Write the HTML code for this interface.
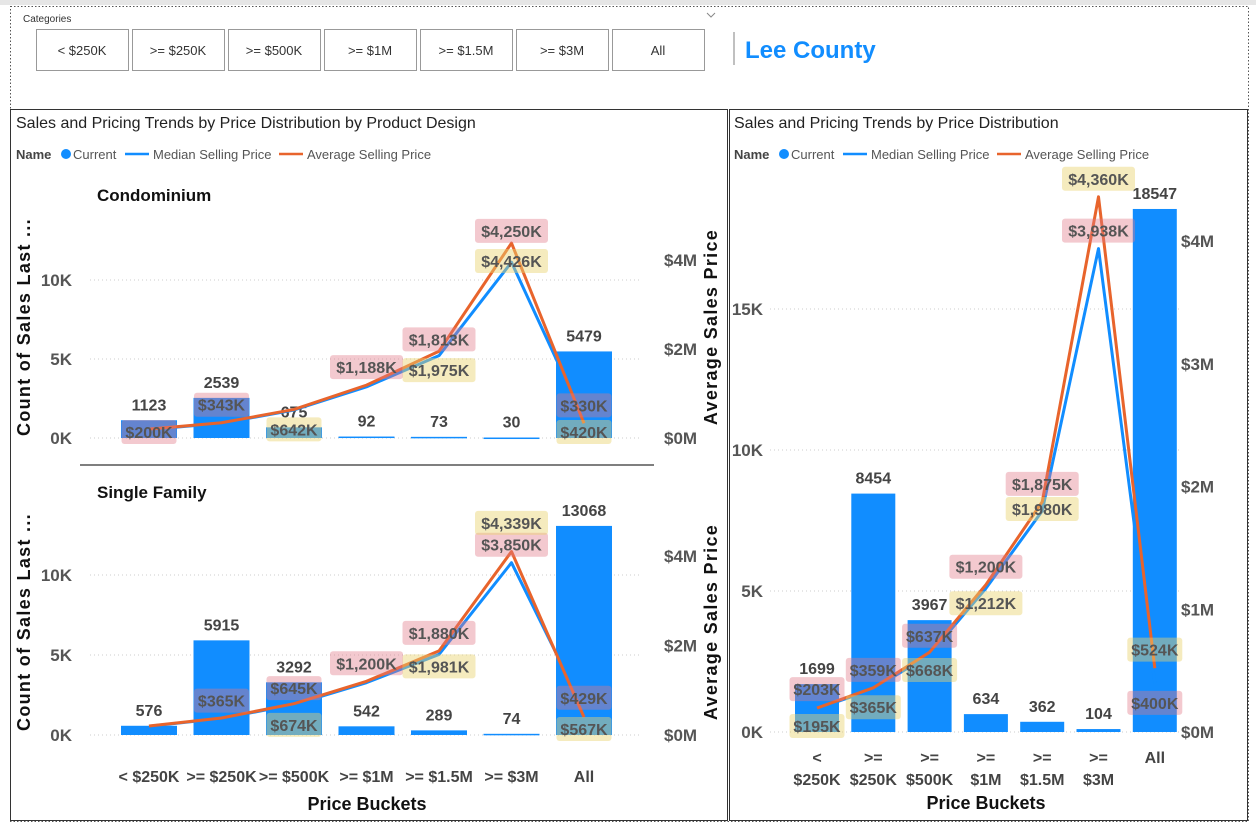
<!DOCTYPE html>
<html><head><meta charset="utf-8">
<style>
body{margin:0;background:#fff;}
svg{display:block;font-family:"Liberation Sans",sans-serif;}
</style></head>
<body>
<svg id="root" width="1256" height="825" viewBox="0 0 1256 825">
  <rect x="0" y="0" width="1256" height="5" fill="#e6e6e6"/>
  <rect x="10.5" y="6.5" width="1238" height="815" fill="none" stroke="#555" stroke-dasharray="1.5,2"/>
  <text x="23" y="22" font-size="10" fill="#333">Categories</text>
  <path d="M707 13 L711 17 L715 13" fill="none" stroke="#888"/>
  <g id="slicer"></g>
  <line x1="734" y1="32" x2="734" y2="65" stroke="#aaa" stroke-width="1.5"/>
  <text x="745" y="58" font-size="24" font-weight="bold" fill="#118dff">Lee County</text>
  <rect x="10.5" y="109.5" width="717" height="711" fill="none" stroke="#333"/>
  <rect x="729.5" y="109.5" width="518" height="711" fill="none" stroke="#333"/>
  <g id="charts"></g>
</svg>
<script>
const slicerItems = ["< $250K", ">= $250K", ">= $500K", ">= $1M", ">= $1.5M", ">= $3M", "All"];
const categories = ["< $250K", ">= $250K", ">= $500K", ">= $1M", ">= $1.5M", ">= $3M", "All"];
const leftTicks = [0, 5, 10];
const leftTicksR = [0, 5, 10, 15];
const rightTicksL = [0, 2, 4];
const rightTicksR = [0, 1, 2, 3, 4];
// Condominium
const condoCounts = [1123, 2539, 675, 92, 73, 30, 5479];
const condoAvg = [200, 343, 642, 1188, 1950, 4380, 330];
const condoMedian = [190, 330, 630, 1150, 1850, 3950, 420];
const condoPink = [200, 343, null, 1188, 1813, 4250, 330];
const condoPinkAbove = [false, true, true, true, true, true, true];
const condoYellow = [null, null, 642, null, 1975, 4426, 420];
const condoYellowAbove = [false, false, false, false, false, false, false];
// Single family
const sfCounts = [576, 5915, 3292, 542, 289, 74, 13068];
const sfAvg = [200, 380, 700, 1200, 1880, 4100, 400];
const sfMedian = [195, 370, 680, 1170, 1800, 3850, 567];
const sfPink = [null, 365, 645, 1200, 1880, 3850, 429];
const sfPinkAbove = [true, true, true, true, true, true, true];
const sfYellow = [null, null, 674, null, 1981, 4339, 567];
const sfYellowAbove = [false, false, false, false, false, true, false];
// Overall
const allCounts = [1699, 8454, 3967, 634, 362, 104, 18547];
const allAvg = [195, 360, 650, 1200, 1875, 4360, 520];
const allMedian = [190, 350, 630, 1170, 1800, 3938, 400];
const allPink = [203, 359, 637, 1200, 1875, 3938, 400];
const allPinkAbove = [true, true, true, true, true, true, false];
const allYellow = [195, 365, 668, 1212, 1980, 4360, 524];
const allYellowAbove = [false, false, false, false, false, true, true];

const NS = "http://www.w3.org/2000/svg";
const charts = document.getElementById("charts");
function mk(tag, attrs, parent, txt){
  const e = document.createElementNS(NS, tag);
  for (const k in attrs) e.setAttribute(k, attrs[k]);
  if (txt !== undefined) e.textContent = txt;
  (parent || charts).appendChild(e);
  return e;
}
const sl = document.getElementById("slicer");
slicerItems.forEach((s, i) => {
  const g = mk("g", {}, sl);
  
  
  mk("rect", {x: 36.5 + i*96, y: 29.5, width: 92, height: 41, fill: "#fff", stroke: "#999"}, g);
  mk("text", {x: 82 + i*96, y: 55, "font-size": 13, fill: "#333", "text-anchor": "middle"}, g, s);
});

function fmtK(v){ return "$" + v.toLocaleString("en-US") + "K"; }

function panel(o){
  const g = mk("g", {});
  
  
  const xC = i => o.x0 + i*o.step;
  const yL = v => o.base - v*o.lScale;
  const yR = v => o.base - v*o.rScale;
  o.lTicks.forEach(t => {
    const y = o.base - t*1000*o.lScale;
    const gl = mk("line", {x1: o.gx1, x2: o.gx2, y1: y, y2: y, stroke: "#ccc", "stroke-dasharray": "1,3"}, g);
    
    
    const tl = mk("text", {x: o.lTickX, y: y+6, "font-size": 17, "font-weight": "bold", fill: "#555", "text-anchor": "end"}, g, t + "K");
    
    
  });
  o.rTicks.forEach(t => {
    const y = o.base - t*1000*o.rScale;
    const tl = mk("text", {x: o.rTickX, y: y+6, "font-size": 17, "font-weight": "bold", fill: "#555"}, g, "$" + t + "M");
    
    
  });
  o.counts.forEach((c, i) => {
    const top = yL(c);
    const b = mk("rect", {x: xC(i) - o.bw/2, y: top, width: o.bw, height: Math.max(o.base - top, 1.5), fill: "#118dff"}, g);
    
    
    const bl = mk("text", {x: xC(i), y: top - 10, "font-size": 16, "font-weight": "bold", fill: "#444", "text-anchor": "middle"}, g, c);
    
    
  });
  [[o.median, "#118dff"], [o.avg, "#e8642c"]].forEach(([arr, col], k) => {
    const p = mk("polyline", {points: arr.map((v, i) => xC(i) + "," + yR(v)).join(" "), fill: "none", stroke: col, "stroke-width": 3, "stroke-linejoin": "round"}, g);
    
    
  });
  [[o.pink, o.pinkAbove, "rgba(226,120,135,0.4)"], [o.yellow, o.yellowAbove, "rgba(232,210,110,0.45)"]].forEach(([arr, ab, col], k) => {
    arr.forEach((v, i) => {
      if (v === null) return;
      let y = yR(v) + (ab[i] ? -18 : 20);
      if (y > o.base - 6) y = o.base - 6;
      const txt = fmtK(v);
      const w = txt.length * 9 + 10;
      const lg = mk("g", {}, g);
      
      
      mk("rect", {x: xC(i) - w/2, y: y - 12, width: w, height: 24, rx: 3, fill: col}, lg);
      mk("text", {x: xC(i), y: y + 6, "font-size": 16, "font-weight": "bold", fill: "#555", "text-anchor": "middle"}, lg, txt);
    });
  });
  if (o.lTitle) {
    const t = mk("text", {transform: `translate(${o.lTitleX},${o.lTitleY}) rotate(-90)`, "font-size": 18, "font-weight": "bold", "letter-spacing": "1.3", fill: "#111", "text-anchor": "middle"}, g, o.lTitle);
    
    
  }
  if (o.rTitle) {
    const t = mk("text", {transform: `translate(${o.rTitleX},${o.lTitleY}) rotate(-90)`, "font-size": 18, "font-weight": "bold", "letter-spacing": "1.3", fill: "#111", "text-anchor": "middle"}, g, o.rTitle);
    
    
  }
  return {g, xC};
}

function header(x, title){
  const t = mk("text", {x: x, y: 128, "font-size": 16, fill: "#222"}, charts, title);
  
  
  const lg = mk("g", {});
  
  
  mk("text", {x: x, y: 159, "font-size": 13, "font-weight": "bold", fill: "#444"}, lg, "Name");
  mk("circle", {cx: x + 50, cy: 154, r: 5, fill: "#118dff"}, lg);
  mk("text", {x: x + 57, y: 159, "font-size": 13, fill: "#555"}, lg, "Current");
  mk("line", {x1: x + 109, x2: x + 133, y1: 154, y2: 154, stroke: "#118dff", "stroke-width": 2.5}, lg);
  mk("text", {x: x + 137, y: 159, "font-size": 13, fill: "#555"}, lg, "Median Selling Price");
  mk("line", {x1: x + 263, x2: x + 287, y1: 154, y2: 154, stroke: "#e8642c", "stroke-width": 2.5}, lg);
  mk("text", {x: x + 291, y: 159, "font-size": 13, fill: "#555"}, lg, "Average Selling Price");
}
header(16, "Sales and Pricing Trends by Price Distribution by Product Design");
header(734, "Sales and Pricing Trends by Price Distribution");

let t = mk("text", {x: 97, y: 201, "font-size": 17, "font-weight": "bold", fill: "#111"}, charts, "Condominium");


panel({name: "condo-chart", x0: 149, step: 72.5, bw: 56, base: 438, lScale: 0.0158, rScale: 0.0445,
  counts: condoCounts, avg: condoAvg, median: condoMedian, pink: condoPink, pinkAbove: condoPinkAbove,
  yellow: condoYellow, yellowAbove: condoYellowAbove, lTicks: leftTicks, rTicks: rightTicksL,
  gx1: 90, gx2: 640, lTickX: 72, rTickX: 664, lTitle: "Count of Sales Last ...", lTitleX: 30, lTitleY: 327,
  rTitle: "Average Sales Price", rTitleX: 717});
let sep = mk("line", {x1: 80, x2: 654, y1: 465, y2: 465, stroke: "#555", "stroke-width": 1.5});



t = mk("text", {x: 97, y: 498, "font-size": 17, "font-weight": "bold", fill: "#111"}, charts, "Single Family");


const sf = panel({name: "single-family-chart", x0: 149, step: 72.5, bw: 56, base: 735, lScale: 0.016, rScale: 0.04475,
  counts: sfCounts, avg: sfAvg, median: sfMedian, pink: sfPink, pinkAbove: sfPinkAbove,
  yellow: sfYellow, yellowAbove: sfYellowAbove, lTicks: leftTicks, rTicks: rightTicksL,
  gx1: 90, gx2: 640, lTickX: 72, rTickX: 664, lTitle: "Count of Sales Last ...", lTitleX: 30, lTitleY: 622,
  rTitle: "Average Sales Price", rTitleX: 717});
categories.forEach((c, i) => {
  const e = mk("text", {x: sf.xC(i), y: 782, "font-size": 16, "font-weight": "bold", fill: "#444", "text-anchor": "middle"}, charts, c);
  
  
});
t = mk("text", {x: 367, y: 810, "font-size": 18, "font-weight": "bold", fill: "#111", "text-anchor": "middle"}, charts, "Price Buckets");



const ov = panel({name: "overall-chart", x0: 817, step: 56.3, bw: 44, base: 732, lScale: 0.0282, rScale: 0.12275,
  counts: allCounts, avg: allAvg, median: allMedian, pink: allPink, pinkAbove: allPinkAbove,
  yellow: allYellow, yellowAbove: allYellowAbove, lTicks: leftTicksR, rTicks: rightTicksR,
  gx1: 770, gx2: 1180, lTickX: 763, rTickX: 1181});
categories.forEach((c, i) => {
  const parts = c === "All" ? ["All"] : c.split(" ");
  parts.forEach((p, j) => {
    const e = mk("text", {x: ov.xC(i), y: 763 + j*22, "font-size": 16, "font-weight": "bold", fill: "#444", "text-anchor": "middle"}, charts, p);
    
    
  });
});
t = mk("text", {x: 986, y: 809, "font-size": 18, "font-weight": "bold", fill: "#111", "text-anchor": "middle"}, charts, "Price Buckets");


</script>
</body></html>
